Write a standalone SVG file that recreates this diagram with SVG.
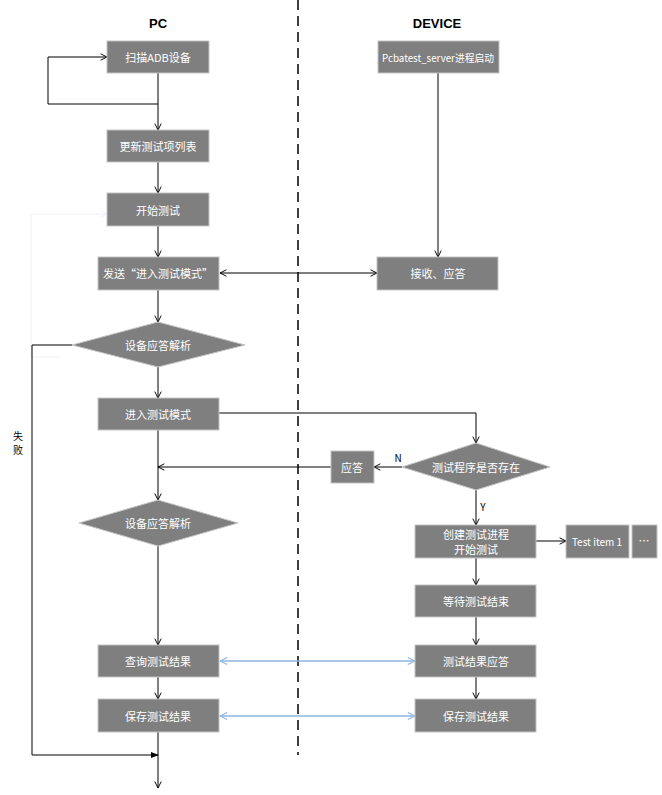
<svg xmlns="http://www.w3.org/2000/svg" width="662" height="795" viewBox="0 0 662 795">
<style>
.box{fill:#7f7f7f;stroke:#c4c4c4;stroke-width:1}
.t{font-family:"Noto Sans CJK SC","Microsoft YaHei",sans-serif;font-size:11px;fill:#ffffff;text-anchor:middle;dominant-baseline:central}
.s{font-size:10px}
.title{font-family:"Liberation Sans",Arial,sans-serif;font-size:13px;font-weight:bold;fill:#000;text-anchor:middle}
.lbl{font-family:"Noto Sans CJK SC","Liberation Sans",sans-serif;font-size:10px;fill:#000;text-anchor:middle;dominant-baseline:central}
.c{fill:none;stroke:#000;stroke-width:1}
.b{fill:none;stroke:#8db4e2;stroke-width:1.5}
.f{fill:none;stroke:#eef1f8;stroke-width:1}
</style>
<defs>
<marker id="a" viewBox="0 0 10 10" refX="9" refY="5" markerWidth="8" markerHeight="8" markerUnits="userSpaceOnUse" orient="auto-start-reverse">
<path d="M1,1 L9,5 L1,9" fill="none" stroke="#000" stroke-width="1.2"/>
</marker>
<marker id="ab" viewBox="0 0 10 10" refX="9" refY="5" markerWidth="9" markerHeight="9" markerUnits="userSpaceOnUse" orient="auto-start-reverse">
<path d="M1,1 L9,5 L1,9" fill="none" stroke="#8db4e2" stroke-width="1.2"/>
</marker>
<marker id="af" viewBox="0 0 10 10" refX="9" refY="5" markerWidth="8" markerHeight="8" markerUnits="userSpaceOnUse" orient="auto">
<path d="M0,1 L10,5 L0,9 Z" fill="#000"/>
</marker>
<marker id="afl" viewBox="0 0 10 10" refX="9" refY="5" markerWidth="8" markerHeight="8" markerUnits="userSpaceOnUse" orient="auto">
<path d="M1,1 L9,5 L1,9" fill="none" stroke="#eef1f8" stroke-width="1.2"/>
</marker>
</defs>
<rect width="662" height="795" fill="#ffffff"/>
<text class="title" x="158" y="28">PC</text>
<text class="title" x="437" y="28">DEVICE</text>
<line x1="298" y1="0" x2="298" y2="755" stroke="#000" stroke-width="1.5" stroke-dasharray="10,6"/>

<g id="connectors">
<path class="f" d="M60,357 L31,357 L31,214 L107,214" marker-end="url(#afl)"/>
<path class="c" d="M158,73 L158,130" marker-end="url(#a)"/>
<path class="c" d="M158,104 L48,104 L48,57 L107,57" marker-end="url(#a)"/>
<path class="c" d="M158,162 L158,193" marker-end="url(#a)"/>
<path class="c" d="M158,226 L158,257" marker-end="url(#a)"/>
<path class="c" d="M438,73 L438,257" marker-end="url(#a)"/>
<path class="c" d="M220,273 L377,273" marker-start="url(#a)" marker-end="url(#a)"/>
<path class="c" d="M158,290 L158,322" marker-end="url(#a)"/>
<path class="c" d="M158,367 L158,398" marker-end="url(#a)"/>
<path class="c" d="M72,345 L32,345 L32,755 L158,755" marker-end="url(#af)"/>
<path class="c" d="M219,413 L476,413 L476,443" marker-end="url(#a)"/>
<path class="c" d="M402,467 L374,467" marker-end="url(#a)"/>
<path class="c" d="M331,467 L158,467" marker-end="url(#a)"/>
<path class="c" d="M158,430 L158,500" marker-end="url(#a)"/>
<path class="c" d="M476,490 L476,525" marker-end="url(#a)"/>
<path class="c" d="M536,541 L566,541" marker-end="url(#a)"/>
<path class="c" d="M476,558 L476,585" marker-end="url(#a)"/>
<path class="c" d="M476,617 L476,645" marker-end="url(#a)"/>
<path class="c" d="M476,677 L476,699" marker-end="url(#a)"/>
<path class="c" d="M158,546 L158,645" marker-end="url(#a)"/>
<path class="c" d="M158,677 L158,699" marker-end="url(#a)"/>
<path class="c" d="M158,732 L158,788" marker-end="url(#a)"/>
<path class="b" d="M220,661 L415,661" marker-start="url(#ab)" marker-end="url(#ab)"/>
<path class="b" d="M220,716 L415,716" marker-start="url(#ab)" marker-end="url(#ab)"/>
<text class="lbl" x="398" y="457">N</text>
<text class="lbl" x="483" y="506">Y</text>
<text class="lbl" x="18" y="435">失</text>
<text class="lbl" x="18" y="449">败</text>
</g>

<g id="n1"><rect class="box" x="107" y="41" width="102" height="32"/><text class="t" x="158" y="57">扫描ADB设备</text></g>
<g id="n2"><rect class="box" x="107" y="130" width="102" height="32"/><text class="t" x="158" y="146">更新测试项列表</text></g>
<g id="n3"><rect class="box" x="107" y="193" width="102" height="33"/><text class="t" x="158" y="210">开始测试</text></g>
<g id="n4"><rect class="box" x="98" y="257" width="121" height="33"/><text class="t" x="158" y="273">发送“进入测试模式”</text></g>
<g id="n5"><polygon class="box" points="72,345 158,322 245,345 158,367"/><text class="t" x="158" y="345">设备应答解析</text></g>
<g id="n6"><rect class="box" x="98" y="398" width="121" height="32"/><text class="t" x="158" y="414">进入测试模式</text></g>
<g id="n7"><polygon class="box" points="79,523 158,500 238,523 158,546"/><text class="t" x="158" y="523">设备应答解析</text></g>
<g id="n8"><rect class="box" x="98" y="645" width="121" height="32"/><text class="t" x="158" y="661">查询测试结果</text></g>
<g id="n9"><rect class="box" x="98" y="699" width="121" height="33"/><text class="t" x="158" y="716">保存测试结果</text></g>
<g id="d1"><rect class="box" x="378" y="41" width="121" height="32"/><text class="t s" x="438" y="57" textLength="112" lengthAdjust="spacingAndGlyphs">Pcbatest_server进程启动</text></g>
<g id="d2"><rect class="box" x="377" y="257" width="121" height="33"/><text class="t" x="438" y="273">接收、应答</text></g>
<g id="d3"><polygon class="box" points="402,467 476,443 550,467 476,490"/><text class="t" x="476" y="467">测试程序是否存在</text></g>
<g id="d4"><rect class="box" x="331" y="451" width="43" height="32"/><text class="t" x="352" y="467">应答</text></g>
<g id="d5"><rect class="box" x="415" y="525" width="121" height="33"/><text class="t" x="476" y="534">创建测试进程</text><text class="t" x="476" y="549">开始测试</text></g>
<g id="d6"><rect class="box" x="566" y="525" width="63" height="33"/><text class="t s" x="597" y="541">Test item 1</text></g>
<g id="d7"><rect class="box" x="632" y="525" width="25" height="33"/><text class="t" x="644" y="540">…</text></g>
<g id="d8"><rect class="box" x="415" y="585" width="121" height="32"/><text class="t" x="476" y="601">等待测试结束</text></g>
<g id="d9"><rect class="box" x="415" y="645" width="121" height="32"/><text class="t" x="476" y="661">测试结果应答</text></g>
<g id="d10"><rect class="box" x="415" y="699" width="121" height="33"/><text class="t" x="476" y="716">保存测试结果</text></g>
</svg>
